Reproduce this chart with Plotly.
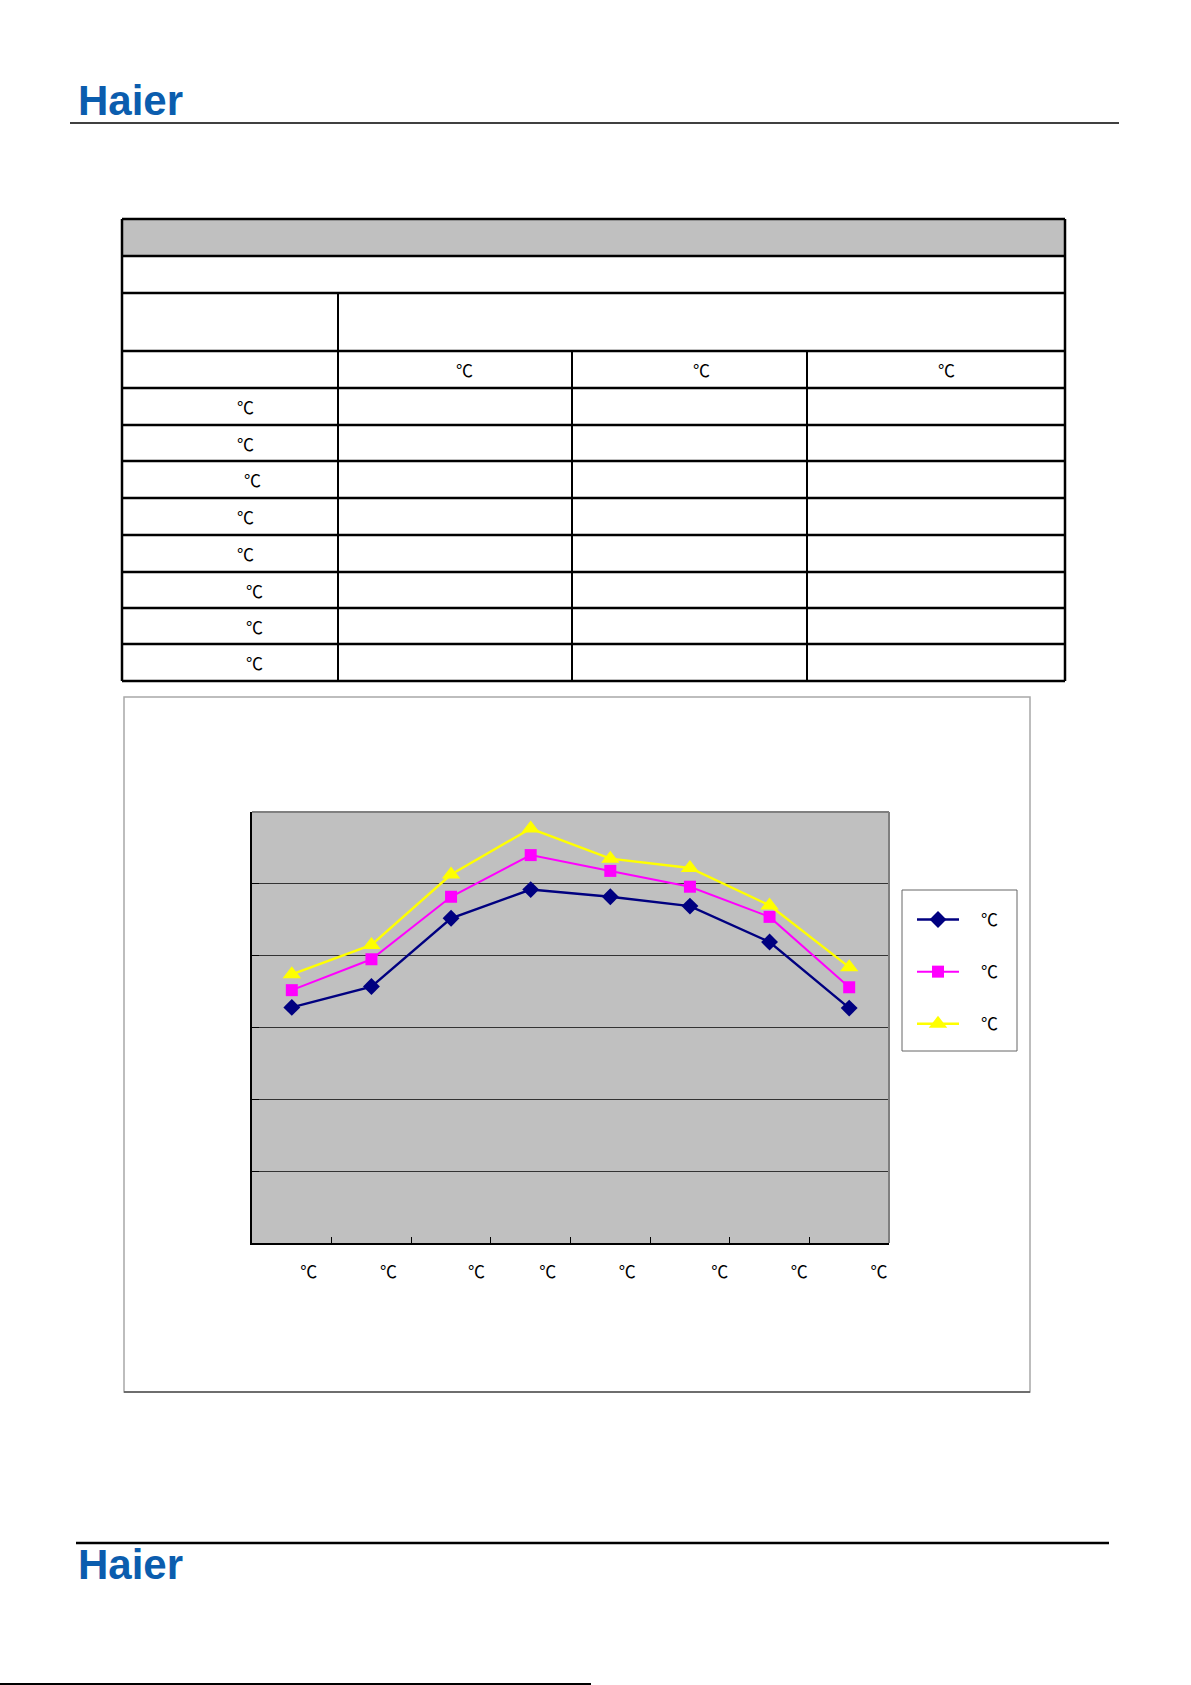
import plotly.graph_objects as go

# ---------------- data ----------------
x_labels = ["℃", "℃", "℃", "℃", "℃", "℃", "℃", "℃"]
series_names = ["℃", "℃", "℃"]
series_navy = [32.8, 35.7, 45.2, 49.2, 48.2, 46.9, 41.9, 32.7]
series_magenta = [35.2, 39.5, 48.2, 54.0, 51.8, 49.6, 45.4, 35.6]
series_yellow = [37.4, 41.5, 51.3, 57.7, 53.5, 52.2, 47.0, 38.4]
table_header_units = ["℃", "℃", "℃"]
table_row_units = ["℃", "℃", "℃", "℃", "℃", "℃", "℃", "℃"]

# ---------------- page geometry (pixels) ----------------
W, H = 1191, 1685


def px(x):
    return x / W


def py(y):
    return 1 - y / H


# invisible-width padding before each ℃ label (the rest of the label text is blank in the source)
tick_pad_px = [34, 34, 48, 32, 34, 56, 56, 54]
row_unit_x = [245, 245, 252, 245, 245, 255, 255, 255]


def pad(width):
    em = int(width // 16)
    rest = width - em * 16
    s = "\u2003" * em
    if rest >= 6:
        s += "\u2002"
    return s


x_pos = list(range(len(x_labels)))
ticktext = [pad(p) + t for p, t in zip(tick_pad_px, x_labels)]
boundaries = [i + 0.5 for i in x_pos[:-1]]

fig = go.Figure()

styles = [
    dict(color="#000080", symbol="diamond", size=13, width=2.4),
    dict(color="#FF00FF", symbol="square", size=12, width=2),
    dict(color="#FFFF00", symbol="triangle-up", size=16, width=2.4),
]
for name, vals, st, g in zip(series_names, [series_navy, series_magenta, series_yellow], styles, ["a", "b", "c"]):
    fig.add_trace(go.Scatter(
        x=x_pos, y=vals, mode="lines+markers", name="\u2003" + name, legendgroup=g,
        line=dict(color=st["color"], width=st["width"]),
        marker=dict(color=st["color"], symbol=st["symbol"], size=st["size"], line=dict(width=0)),
    ))

shapes = []
annotations = []


def hline(x0, x1, y, w=2, c="black"):
    shapes.append(dict(type="line", xref="paper", yref="paper", x0=px(x0), x1=px(x1), y0=py(y), y1=py(y),
                       line=dict(color=c, width=w)))


def vline(x, y0, y1, w=2, c="black"):
    shapes.append(dict(type="line", xref="paper", yref="paper", x0=px(x), x1=px(x), y0=py(y0), y1=py(y1),
                       line=dict(color=c, width=w)))


# header / footer
hline(70, 1119, 123, 1.5)
hline(76, 1109, 1543, 2.5)
hline(0, 591, 1684, 2)
for ly in [101, 1564]:
    annotations.append(dict(text="<b>Haier</b>", x=px(76), y=py(ly), xref="paper", yref="paper",
                            xanchor="left", yanchor="middle", showarrow=False,
                            font=dict(family="Liberation Sans, Arial", size=42, color="#0B5DAE")))

# table
shapes.append(dict(type="rect", xref="paper", yref="paper", x0=px(122), x1=px(1065), y0=py(219), y1=py(256),
                   fillcolor="#C0C0C0", line=dict(width=0), layer="below"))
row_lines = [219, 256, 293, 351, 388, 425, 461, 498, 535, 572, 608, 644, 681]
for y in row_lines:
    hline(122, 1065, y, 2.5)
vline(122, 219, 681, 2.5)
vline(1065, 219, 681, 2.5)
vline(338, 293, 681, 2)
vline(572, 351, 681, 2)
vline(807, 351, 681, 2)

cell_font = dict(family="Noto Sans CJK SC", size=17, color="black")
for xx, t in zip([464, 701, 946], table_header_units):
    annotations.append(dict(text=t, x=px(xx), y=py(369.5), xref="paper", yref="paper",
                            xanchor="center", yanchor="middle", showarrow=False, font=cell_font))
for i, t in enumerate(table_row_units):
    yc = (row_lines[4 + i] + row_lines[5 + i]) / 2
    annotations.append(dict(text=t, x=px(row_unit_x[i]), y=py(yc), xref="paper", yref="paper",
                            xanchor="center", yanchor="middle", showarrow=False, font=cell_font))

# chart frame
shapes.append(dict(type="rect", xref="paper", yref="paper", x0=px(124), x1=px(1030), y0=py(697), y1=py(1392),
                   line=dict(color="#A8A8A8", width=1.5), layer="below"))
hline(124, 1030, 1392, 1.5, "#555555")
# plot area top/right border
shapes.append(dict(type="line", xref="x domain", yref="y domain", x0=0, x1=1, y0=1, y1=1,
                   line=dict(color="#808080", width=2)))
shapes.append(dict(type="line", xref="x domain", yref="y domain", x0=1, x1=1, y0=0, y1=1,
                   line=dict(color="#808080", width=2)))
# legend box
shapes.append(dict(type="rect", xref="paper", yref="paper", x0=px(902), x1=px(1017), y0=py(890), y1=py(1051),
                   line=dict(color="#666666", width=1), fillcolor="white"))

fig.update_layout(
    width=W, height=H,
    margin=dict(l=0, r=0, t=0, b=0),
    paper_bgcolor="white",
    plot_bgcolor="#C0C0C0",
    shapes=shapes,
    annotations=annotations,
    showlegend=True,
    legend=dict(x=px(912), y=py(902), xanchor="left", yanchor="top", bgcolor="rgba(0,0,0,0)",
                borderwidth=0, tracegroupgap=27, itemwidth=42,
                font=dict(family="Noto Sans CJK SC", size=17, color="black")),
    xaxis=dict(domain=[px(252), px(889)], range=[-0.5, 7.5], tickmode="array", tickvals=x_pos,
               ticktext=ticktext, ticks="",
               minor=dict(tickmode="array", tickvals=boundaries, ticks="inside", ticklen=6,
                          tickcolor="black", showgrid=False),
               showline=True, linecolor="black", linewidth=2, showgrid=False, zeroline=False,
               ticklabelstandoff=13,
               tickfont=dict(family="Noto Sans CJK SC", size=17, color="black")),
    yaxis=dict(domain=[py(1243), py(812)], range=[0, 60], dtick=10, showticklabels=False,
               ticks="inside", ticklen=7, tickcolor="black", showline=True, linecolor="black",
               linewidth=2, showgrid=True, gridcolor="#333333", gridwidth=1, zeroline=False),
)

fig.write_html("out.html", config={"displayModeBar": False},
               post_script="document.body.style.margin='0';document.body.style.overflow='hidden';")
